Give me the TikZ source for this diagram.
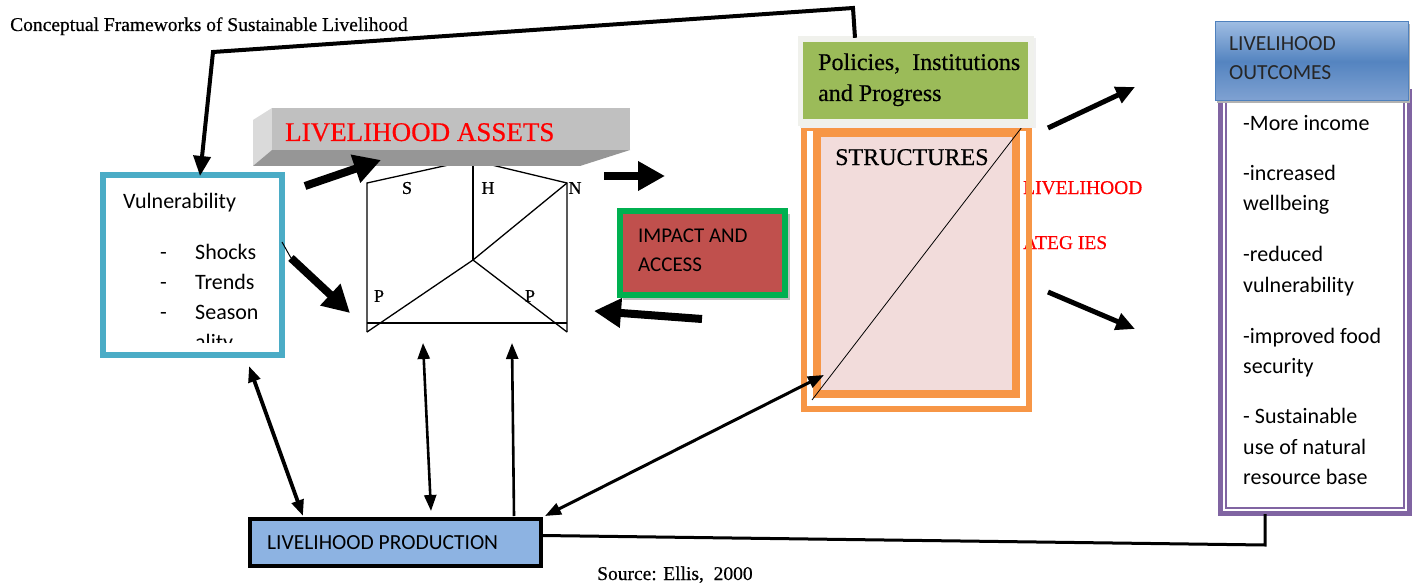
\documentclass[tikz,border=0pt]{standalone}
\usepackage{fontspec}
\usepackage{graphicx}
\setmainfont[FakeBold=0.6]{Liberation Serif}
\newfontfamily\serheavy[FakeBold=0.5]{Liberation Serif}
\newfontfamily\carl{Carlito}
\usetikzlibrary{arrows.meta,calc}
\definecolor{vulteal}{RGB}{75,172,198}
\definecolor{orng}{RGB}{247,150,70}
\definecolor{pinkf}{RGB}{242,220,219}
\definecolor{grn}{RGB}{0,176,80}
\definecolor{impred}{RGB}{192,80,77}
\definecolor{polgreen}{RGB}{155,187,89}
\definecolor{polgray}{RGB}{240,241,236}
\definecolor{purp}{RGB}{128,100,162}
\definecolor{hdrtop}{RGB}{158,188,226}
\definecolor{hdrmid}{RGB}{84,132,192}
\definecolor{hdrbot}{RGB}{128,162,210}
\definecolor{hdrline}{RGB}{79,129,189}
\definecolor{prodblue}{RGB}{141,179,226}
\definecolor{barfront}{RGB}{192,192,192}
\definecolor{barleft}{RGB}{218,218,218}
\definecolor{barbot}{RGB}{150,150,150}
\begin{document}
\begin{tikzpicture}[x=1pt,y=-1pt,
  txt/.style={inner sep=0pt, anchor=base west},
  ser/.style={txt, font=\serheavy\fontsize{#1}{#1}\selectfont},
  cal/.style={txt, font=\carl\fontsize{#1}{#1}\selectfont},
  lbl/.style={inner sep=0pt, anchor=center, font=\serheavy\fontsize{18}{18}\selectfont},
  thk/.style={line width=8pt, -{Triangle[length=27pt,width=28pt]}},
  med/.style={line width=5pt, -{Triangle[length=19pt,width=17pt]}},
  dbl/.style={line width=#1, {Triangle[length=16pt,width=12pt]}-{Triangle[length=16pt,width=12pt]}},
  one/.style={line width=#1, -{Triangle[length=16pt,width=12pt]}},
  boxn/.style={inner sep=0pt, rectangle}]
\useasboundingbox (0,0) rectangle (1414,583);
\fill[white] (0,0) rectangle (1414,583);

% title
\node[ser=19.5] (title) at (10,31) {Conceptual Frameworks of Sustainable Livelihood};

% strategies text (partly behind structures box)
\node[ser=19.5, text=red] (lsA) at (1023,194) {LIVELIHOOD};
\node[ser=19.5, text=red] (lsB) at (1023,249) {ATEG IES};

% structures
\node[boxn, draw=orng, line width=6pt, minimum width=224.5pt, minimum height=281pt] (str) at (916.25,268.5) {};
\node[boxn, draw=orng, fill=pinkf, line width=8pt, minimum width=199pt, minimum height=261pt] (strin) at (916,263.5) {};
\node[ser=24] (strt) at (835,165) {STRUCTURES};
\coordinate (dgA) at (812,400);
\coordinate (dgB) at (1022,127);
\draw[line width=0.8pt] (dgA) -- (dgB);

% policies
\fill[black!6] (800,38) rectangle (1036,128);
\node[boxn, fill=polgray, minimum width=236pt, minimum height=90pt] (pol) at (916,81) {};
\node[boxn, fill=polgreen, minimum width=225pt, minimum height=77pt] (polin) at (915.5,80.5) {};
\node[ser=24] (polt1) at (818,70) {Policies,\ \ Institutions};
\node[ser=24] (polt2) at (818,101) {and Progress};

% vulnerability
\node[boxn, draw=vulteal, line width=5pt, minimum width=180pt, minimum height=181pt] (vul) at (192.5,265) {};
\draw[vulteal, line width=1.2pt] ($(vul.north west)+(5.5,5.5)$) rectangle ($(vul.south east)+(-5.5,-5.5)$);
\node[cal=22] (vt) at (123,208) {Vulnerability};
\node[cal=22] (vd1) at (160,259) {-};
\node[cal=22] (vd2) at (160,289) {-};
\node[cal=22] (vd3) at (160,319) {-};
\node[cal=22] (v1) at (195,259) {Shocks};
\node[cal=22] (v2) at (195,289) {Trends};
\node[cal=22] (v3) at (195,319) {Season};
\begin{scope}
  \clip (110,300) rectangle (275,342);
  \node[cal=22] (v4) at (195,349) {ality};
\end{scope}

% pentagon (asset pentagon)
\coordinate (pBL) at (367,332);
\coordinate (pTL) at (367,183);
\coordinate (pTop) at (471,160);
\coordinate (pTR) at (567,183);
\coordinate (pBR) at (567,332);
\coordinate (pC) at (473,260);
\coordinate (pH) at (473,160);
\coordinate (pL) at (367,323);
\coordinate (pR) at (567,323);
\draw[line width=1.3pt] (pBL) -- (pTL) -- (pTop) -- (pTR) -- (pBR);
\draw[line width=1.3pt] (pL) -- (pR);
\draw[line width=1.3pt] (pH) -- (pC);
\draw[line width=1.3pt] (pBL) -- (pC) -- (pBR);
\draw[line width=1.3pt] (pC) -- (pTR);
\node[lbl] (lS) at (407,188) {S};
\node[lbl] (lH) at (488,188) {H};
\node[lbl] (lN) at (575,188) {N};
\node[lbl] (lP1) at (379,296) {P};
\node[lbl] (lP2) at (530,296) {P};

% livelihood assets bar
\fill[barleft] (253,120) -- (272,108) -- (272,150) -- (253,166) -- cycle;
\fill[barbot] (253,166) -- (272,150) -- (630,150) -- (580,166) -- cycle;
\node[boxn, fill=barfront, minimum width=358pt, minimum height=42pt] (bar) at (451,129) {};
\node[ser=27, text=red] (bart) at (285,141) {LIVELIHOOD ASSETS};

% impact and access
\fill[black!25] (623,214) rectangle (790,300);
\node[boxn, draw=grn, fill=impred, line width=6pt, minimum width=164.5pt, minimum height=84pt] (imp) at (702.25,253) {};
\node[cal=21] (it1) at (638,242) {IMPACT AND};
\node[cal=21] (it2) at (638,271) {ACCESS};

% livelihood outcomes
\node[boxn, draw=purp, line width=5pt, minimum width=189pt, minimum height=421.5pt] (out) at (1315,302.75) {};
\draw[purp, line width=1.2pt] ($(out.north west)+(8,8)$) rectangle ($(out.south east)+(-8,-8)$);
\fill[black!30] (1217,24) rectangle (1410,103);
\node[boxn, draw=hdrline, line width=1pt, top color=hdrtop, bottom color=hdrbot, middle color=hdrmid, minimum width=193pt, minimum height=79pt] (outh) at (1311.5,61.5) {};
\node[cal=21.5, text=black!85] (oh1) at (1229,51) {LIVELIHOOD};
\node[cal=21.5, text=black!85] (oh2) at (1229,80) {OUTCOMES};
\node[cal=22] (o1) at (1243,131) {-More income};
\node[cal=22] (o2) at (1243,181) {-increased};
\node[cal=22] (o3) at (1243,211) {wellbeing};
\node[cal=22] (o4) at (1243,261) {-reduced};
\node[cal=22] (o5) at (1243,292) {vulnerability};
\node[cal=22] (o6) at (1243,343) {-improved food};
\node[cal=22] (o7) at (1243,373) {security};
\node[cal=22] (o8) at (1243,423) {- Sustainable};
\node[cal=22] (o9) at (1243,454) {use of natural};
\node[cal=22] (o10) at (1243,484) {resource base};

% livelihood production
\node[boxn, draw=black, fill=prodblue, line width=4pt, minimum width=291pt, minimum height=47pt] (prod) at (395.5,542.5) {};
\node[cal=21.5] (prt) at (267,549) {LIVELIHOOD PRODUCTION};

% source
\node[ser=19.5] (src) at (597,580) {Source: Ellis,\ \ 2000};

% ---- connectors ----
\coordinate (k1) at (853,8);
\coordinate (k2) at (213,52);
\draw[line width=4pt, -{Triangle[length=20pt,width=17pt]}] ($(pol.north)+(-61,2)$) -- (k1) -- (k2) -- ($(vul.north)+(7.5,4)$);

\coordinate (a1s) at (305,186);
\coordinate (a1e) at (381,160);
\draw[thk] (a1s) -- (a1e);
\coordinate (a2t) at (282,242);
\coordinate (a2s) at (291,258);
\coordinate (a2e) at (350,313);
\draw[line width=1pt] (a2t) -- (a2s);
\draw[thk] (a2s) -- (a2e);
\coordinate (a3s) at (604,176);
\coordinate (a3e) at (665,176);
\draw[thk] (a3s) -- (a3e);
\coordinate (a4s) at (702,319);
\coordinate (a4e) at (594,311);
\draw[thk] (a4s) -- (a4e);

\coordinate (r1s) at (1048,128);
\coordinate (r1e) at (1135,87);
\draw[med] (r1s) -- (r1e);
\coordinate (r2s) at (1048,292);
\coordinate (r2e) at (1135,329);
\draw[med] (r2s) -- (r2e);

\coordinate (vp1) at (249,366);
\draw[dbl=3.8pt] (vp1) -- ($(prod.north west)+(55,-1)$);
\coordinate (pp1) at (423,343);
\draw[dbl=2.6pt] (pp1) -- ($(prod.north west)+(183,-6)$);
\coordinate (pp2) at (512,343);
\draw[one=2.6pt] ($(prod.north west)+(266,-1)$) -- (pp2);
\coordinate (sp1) at (824,375);
\draw[dbl=3pt] ($(prod.north east)+(2,-1)$) -- (sp1);

\coordinate (b1) at (1265,545);
\draw[line width=3pt] ($(prod.east)+(-1,-7)$) -- (b1) -- ($(out.south)+(-50,-2)$);
\end{tikzpicture}
\end{document}
